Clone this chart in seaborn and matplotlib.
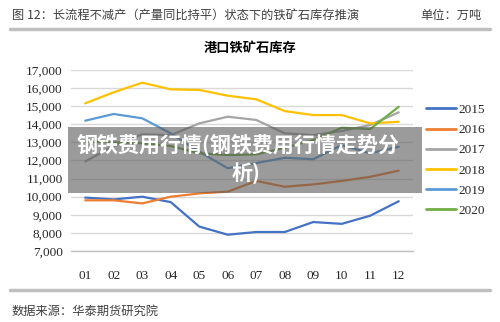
import matplotlib
matplotlib.use("Agg")
import matplotlib.pyplot as plt
from matplotlib.patches import Rectangle
import seaborn as sns
import pandas as pd
import numpy as np

months = ["01", "02", "03", "04", "05", "06", "07", "08", "09", "10", "11", "12"]
years = ["2015", "2016", "2017", "2018", "2019", "2020"]
s2015 = [9950, 9850, 10000, 9700, 8350, 7900, 8050, 8050, 8600, 8500, 8950, 9750]
s2016 = [9800, 9800, 9630, 10000, 10180, 10280, 10870, 10550, 10680, 10870, 11100, 11440]
s2017 = [11950, 12800, 13450, 13400, 14050, 14420, 14240, 13500, 13400, 13630, 13960, 14660]
s2018 = [15160, 15770, 16300, 15930, 15900, 15580, 15380, 14730, 14510, 14510, 14050, 14140]
s2019 = [14200, 14570, 14330, 13500, 12490, 11570, 11860, 12150, 12070, 12850, 12400, 12760]
s2020 = [13050, 13000, 12950, 12800, 12400, 12300, 12340, 12700, 13130, 13810, 13740, 14970]
yticks = [7000, 8000, 9000, 10000, 11000, 12000, 13000, 14000, 15000, 16000, 17000]
colors = ["#4472C4", "#ED7D31", "#A5A5A5", "#FFC000", "#5B9BD5", "#70AD47"]

series = [s2015, s2016, s2017, s2018, s2019, s2020]
rows = []
for yr, vals in zip(years, series):
    for i, v in enumerate(vals):
        rows.append({"month": i, "year": yr, "value": v})
df = pd.DataFrame(rows)

sns.set_style("white")
cjk = ["Noto Sans CJK SC", "DejaVu Sans"]
serif = ["Liberation Serif", "DejaVu Serif"]

fig = plt.figure(figsize=(5, 3.22), dpi=100)
ax = fig.add_axes([71/500, 1-251/322, (413-71)/500, 181/322])

sns.lineplot(data=df, x="month", y="value", hue="year", palette=colors,
             linewidth=1.6, ax=ax, legend=True)

ax.set_xlim(-0.5, 11.5)
ax.set_ylim(7000, 17000)
ax.set_yticks(yticks)
ax.set_yticklabels([f"{v:,}" for v in yticks], fontfamily=serif, fontsize=9.5)
ax.set_xticks(range(12))
ax.set_xticklabels(months, fontfamily=serif, fontsize=9.5)
ax.set_xticks(np.arange(-0.5, 12, 1), minor=True)
ax.tick_params(axis="x", which="major", length=0, pad=14)
ax.tick_params(axis="x", which="minor", length=4, color="#BFBFBF", width=1)
ax.tick_params(axis="y", length=0, pad=6)
ax.set_xlabel("")
ax.set_ylabel("")
for s in ["top", "right", "left"]:
    ax.spines[s].set_visible(False)
ax.spines["bottom"].set_color("#BFBFBF")
ax.spines["bottom"].set_linewidth(1)
ax.yaxis.grid(True, color="#D9D9D9", linewidth=1)
ax.set_axisbelow(True)

leg = ax.legend(loc="upper left", bbox_to_anchor=(414/500, 1-92/322),
                bbox_transform=fig.transFigure, frameon=False,
                prop={"family": serif, "size": 9.5}, handlelength=2.3,
                handletextpad=0.2, labelspacing=0.6)
for line in leg.get_lines():
    line.set_linewidth(2)

# Header
fig.text(12/500, 1-15/322, "图 12：长流程不减产（产量同比持平）状态下的铁矿石库存推演",
         family=cjk, fontsize=8.8, color="#404040", va="center", ha="left")
fig.text(482/500, 1-15/322, "单位：万吨", family=cjk, fontsize=8.8,
         color="#404040", va="center", ha="right")
fig.add_artist(plt.Line2D([10/500, 490/500], [1-29/322, 1-29/322],
                          color="#BFBFBF", linewidth=2.5, transform=fig.transFigure))
fig.text(250/500, 1-48/322, "港口铁矿石库存", family=cjk, fontsize=9.5,
         fontweight="bold", color="#000000", va="center", ha="center")

# Footer
fig.add_artist(plt.Line2D([10/500, 490/500], [1-290/322, 1-290/322],
                          color="#BFBFBF", linewidth=2.5, transform=fig.transFigure))
fig.text(12/500, 1-311/322, "数据来源：华泰期货研究院", family=cjk, fontsize=8.8,
         color="#404040", va="center", ha="left")

# Overlay watermark box
fig.add_artist(Rectangle((68/500, 1-193/322), (422-68)/500, (193-127)/322,
                         transform=fig.transFigure, facecolor="#595959",
                         alpha=0.6, edgecolor="none", zorder=10))
t1 = fig.text(77/500, 1-145/322, "钢铁费用行情(钢铁费用行情走势分", family=cjk,
              fontsize=14.5, fontweight="bold", color="white", va="center",
              ha="left", zorder=11)
t2 = fig.text(246/500, 1-173/322, "析)", family=cjk, fontsize=14.5,
              fontweight="bold", color="white", va="center", ha="center", zorder=11)

# fit watermark line width to the reference span (77..400 px)
renderer = fig.canvas.get_renderer()
w = t1.get_window_extent(renderer).width
fs = 14.5 * 323.0 / w
t1.set_fontsize(fs)
t2.set_fontsize(fs)

fig.savefig("out.png", dpi=100)
